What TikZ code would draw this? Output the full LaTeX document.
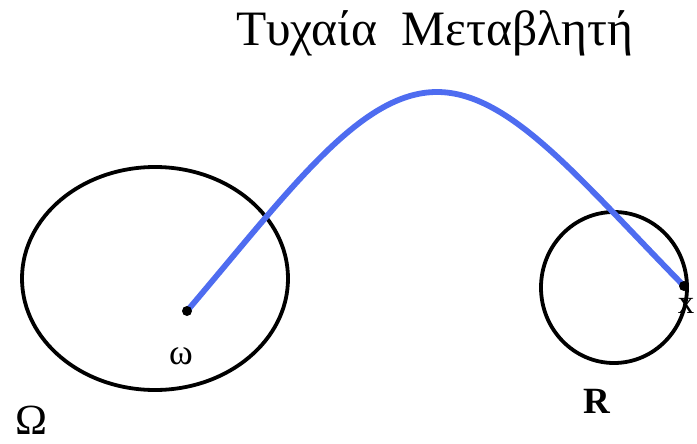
\documentclass[tikz,border=0pt]{standalone}
\usepackage{fontspec}
\usetikzlibrary{shapes.geometric}
\setmainfont{Liberation Serif}
\definecolor{curveblue}{RGB}{78,108,240}
\tikzset{
  setline/.style={draw=black,line width=3.8pt},
  dotn/.style={circle,fill=black,inner sep=0pt,minimum size=10pt},
  lbl/.style={inner sep=0pt,anchor=base},
  mapcurve/.style={draw=curveblue,line width=5.8pt,line cap=round}
}
\begin{document}
\begin{tikzpicture}[x=1pt,y=-1pt]
\useasboundingbox (0,0) rectangle (697,444);
% sets
\node[setline,ellipse,minimum width=266pt,minimum height=223pt,inner sep=0pt] (omega) at (155,278.5) {};
\node[setline,ellipse,minimum width=146pt,minimum height=151pt,inner sep=0pt] (R) at (614,287.5) {};
% end points
\coordinate (w) at (187,311);
\coordinate (xp) at (684,286);
\draw[mapcurve] (w) .. controls (290,190) and (360,92) .. (437,92)
  .. controls (510,92) and (580,180) .. (xp);
\node[dotn] (wdot) at (w) {};
\node[dotn] (xdot) at (xp) {};
% labels
\node[lbl,font=\fontsize{49.5}{52}\selectfont] (title) at (434.5,46) {Τυχαία\ \ Μεταβλητή};
\node[lbl,font=\fontsize{43}{46}\selectfont] (Om) at (31,434.5) {Ω};
\node[lbl,font=\fontsize{36}{38}\selectfont] (wl) at (181,364) {ω};
\node[lbl,font=\fontsize{33}{35}\selectfont] (xl) at (686,313) {x};
\node[lbl,font=\fontsize{37}{40}\selectfont\bfseries] (Rl) at (597,413) {R};
\end{tikzpicture}
\end{document}
